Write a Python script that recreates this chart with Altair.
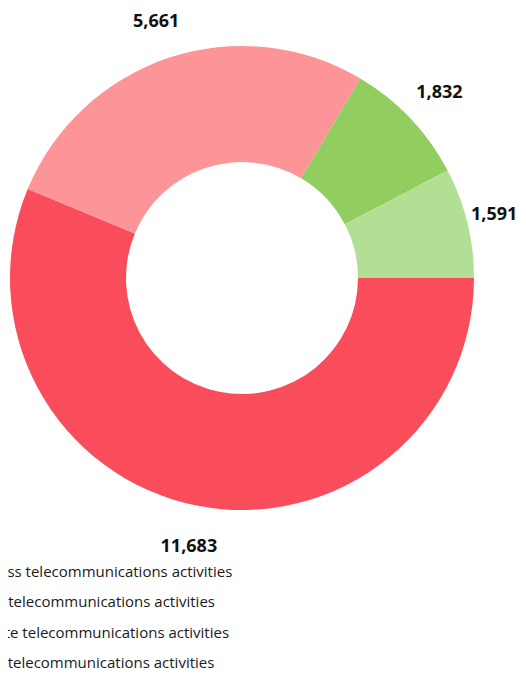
import math
import altair as alt
import pandas as pd

categories = [
    "Wireless telecommunications activities",
    "Wired telecommunications activities",
    "Satellite telecommunications activities",
    "Other telecommunications activities",
]
values = [11683, 5661, 1832, 1591]
colors = ["#FA4D5C", "#FC9498", "#92CD5F", "#B2DF94"]
order_idx = [0, 1, 2, 3]

df = pd.DataFrame({"category": categories, "value": values, "idx": order_idx})

base = alt.Chart(df).encode(
    theta=alt.Theta(
        "value:Q",
        stack=True,
        scale=alt.Scale(range=[math.pi / 2, math.pi / 2 + 2 * math.pi]),
    ),
    order=alt.Order("idx:Q", sort="ascending"),
    color=alt.Color(
        "category:N",
        scale=alt.Scale(domain=categories, range=colors),
        legend=alt.Legend(
            orient="none",
            legendX=-65,
            legendY=556,
            title=None,
            direction="vertical",
            labelFont="Open Sans",
            labelFontSize=15,
            labelColor="#1a1a1a",
            labelLimit=600,
            symbolType="square",
            symbolSize=150,
            rowPadding=14.6,
            padding=0,
            labelOffset=5,
        ),
    ),
)

arc = base.mark_arc(innerRadius=116, outerRadius=232)
labels = base.mark_text(
    radius=272,
    font="Open Sans",
    fontSize=18,
    fontWeight="bold",
    dy=2,
    dx=alt.expr("datum.idx == 3 ? -12 : 0"),
).encode(text=alt.Text("value:Q", format=","), color=alt.value("#111111"))

chart = (
    alt.layer(arc, labels)
    .properties(
        width=468,
        height=540,
        autosize=alt.AutoSizeParams(type="none"),
        padding={"left": 0, "top": 0, "right": 42, "bottom": 121},
    )
    .configure_view(stroke="transparent")
)

chart.save("out.html", embed_options={"renderer": "svg", "actions": False})
